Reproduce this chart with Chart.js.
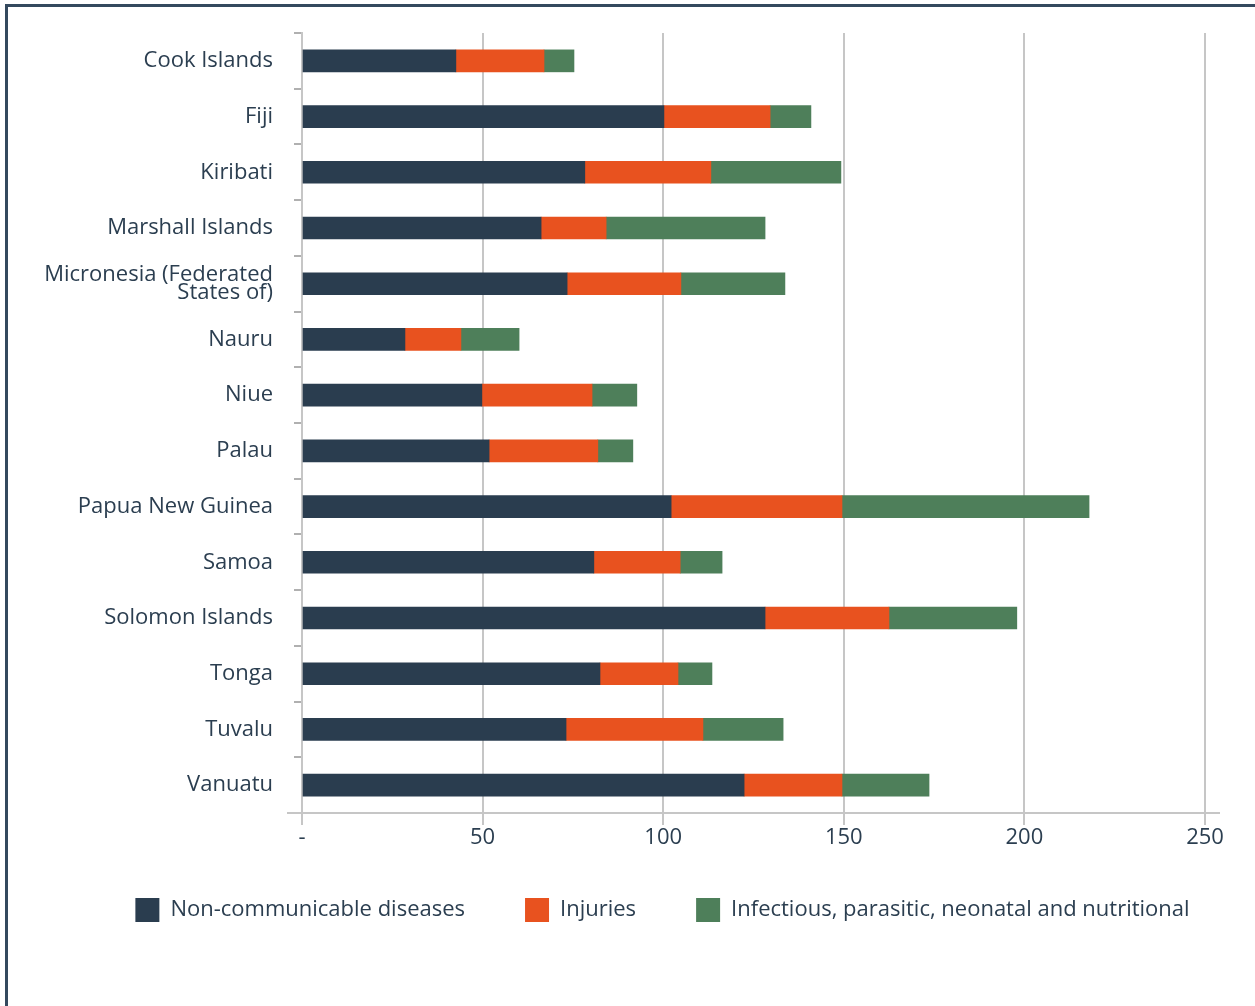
<!DOCTYPE html>
<html>
<head>
<meta charset="utf-8">
<script src="https://cdn.jsdelivr.net/npm/chart.js@4"></script>
<style>
  body { margin: 0; background: #fff; overflow: hidden; }
  #frame {
    position: absolute; left: 5px; top: 4px; width: 1250px; height: 1002px;
    border-top: 3px solid #34495e; border-left: 3px solid #34495e;
  }
  #wrap { position: absolute; left: 0; top: 0; width: 1255px; height: 1006px; }
</style>
</head>
<body>
<div id="frame"></div>
<div id="wrap"><canvas id="chart"></canvas></div>
<script>
'use strict';

var countries = [
	'Cook Islands', 'Fiji', 'Kiribati', 'Marshall Islands',
	['Micronesia (Federated', 'States of)'],
	'Nauru', 'Niue', 'Palau', 'Papua New Guinea', 'Samoa',
	'Solomon Islands', 'Tonga', 'Tuvalu', 'Vanuatu'
];

var nonCommunicable = [42.6, 100.2, 78.3, 66.2, 73.4, 28.5, 49.8, 51.8, 102.2, 80.8, 128.2, 82.5, 73.1, 122.4];
var injuries = [24.4, 29.4, 34.9, 18.0, 31.5, 15.5, 30.5, 30.1, 47.3, 23.9, 34.3, 21.6, 37.9, 27.1];
var infectious = [8.3, 11.3, 36.0, 44.0, 28.8, 16.1, 12.4, 9.7, 68.4, 11.6, 35.4, 9.4, 22.2, 24.1];

var seriesNames = [
	'Non-communicable diseases',
	'Injuries',
	'Infectious, parasitic, neonatal and nutritional'
];
var xTicks = [0, 50, 100, 150, 200, 250];

var textColor = '#2b3e50',
	gridColor = '#c6c6c6',
	font = 'Open Sans';

// Baseline of the value axis runs a bit past the plot on both sides
var axisLinePlugin = {
	id: 'axisLine',
	afterDatasetsDraw: function (chart) {
		var ctx = chart.ctx,
			area = chart.chartArea;
		ctx.save();
		ctx.strokeStyle = gridColor;
		ctx.lineWidth = 2;
		ctx.beginPath();
		ctx.moveTo(area.left - 15, area.bottom);
		ctx.lineTo(area.right + 15, area.bottom);
		ctx.stroke();
		ctx.restore();
	}
};

// Nudge the legend: it sits closer to the axis and a little right of centre
var legendShiftPlugin = {
	id: 'legendShift',
	afterLayout: function (chart) {
		var legend = chart.legend,
			dx = 20,
			dy = -15;
		legend.left += dx;
		legend.right += dx;
		legend.top += dy;
		legend.bottom += dy;
	}
};

function bar(label, data, color) {
	return {
		label: label,
		data: data,
		backgroundColor: color,
		borderWidth: 0,
		barThickness: 22
	};
}

new Chart(document.getElementById('chart'), {
	type: 'bar',
	data: {
		labels: countries,
		datasets: [
			bar(seriesNames[0], nonCommunicable, '#2a3d4f'),
			bar(seriesNames[1], injuries, '#e8521f'),
			bar(seriesNames[2], infectious, '#4e7f5a')
		]
	},
	options: {
		indexAxis: 'y',
		responsive: true,
		maintainAspectRatio: false,
		animation: false,
		layout: {
			padding: { top: 33, left: 30, right: 0, bottom: 59 }
		},
		plugins: {
			tooltip: { enabled: false },
			legend: {
				position: 'bottom',
				labels: {
					color: textColor,
					font: { family: font, size: 22 },
					boxWidth: 24,
					boxHeight: 24,
					padding: 60
				}
			}
		},
		scales: {
			x: {
				stacked: true,
				min: 0,
				max: 250,
				afterBuildTicks: function (scale) {
					scale.ticks = xTicks.map(function (v) { return { value: v }; });
				},
				afterFit: function (scale) {
					scale.height = 40;
					scale.paddingLeft = 0;
					scale.paddingRight = 50;
				},
				border: { display: false },
				grid: {
					color: gridColor,
					lineWidth: 2,
					tickLength: 12
				},
				ticks: {
					color: textColor,
					font: { family: font, size: 22 },
					padding: 0,
					maxRotation: 0,
					callback: function (v) {
						return v === 0 ? '-' : v;
					}
				}
			},
			y: {
				stacked: true,
				afterFit: function (scale) {
					scale.width = 272;
				},
				border: { display: true, color: gridColor, width: 2 },
				grid: {
					offset: true,
					drawOnChartArea: false,
					color: '#b0b0b0',
					lineWidth: 2,
					tickLength: 8
				},
				ticks: {
					color: textColor,
					font: { family: font, size: 22, lineHeight: 0.82 },
					padding: 21,
					autoSkip: false
				}
			}
		}
	},
	plugins: [axisLinePlugin, legendShiftPlugin]
});
</script>
</body>
</html>
